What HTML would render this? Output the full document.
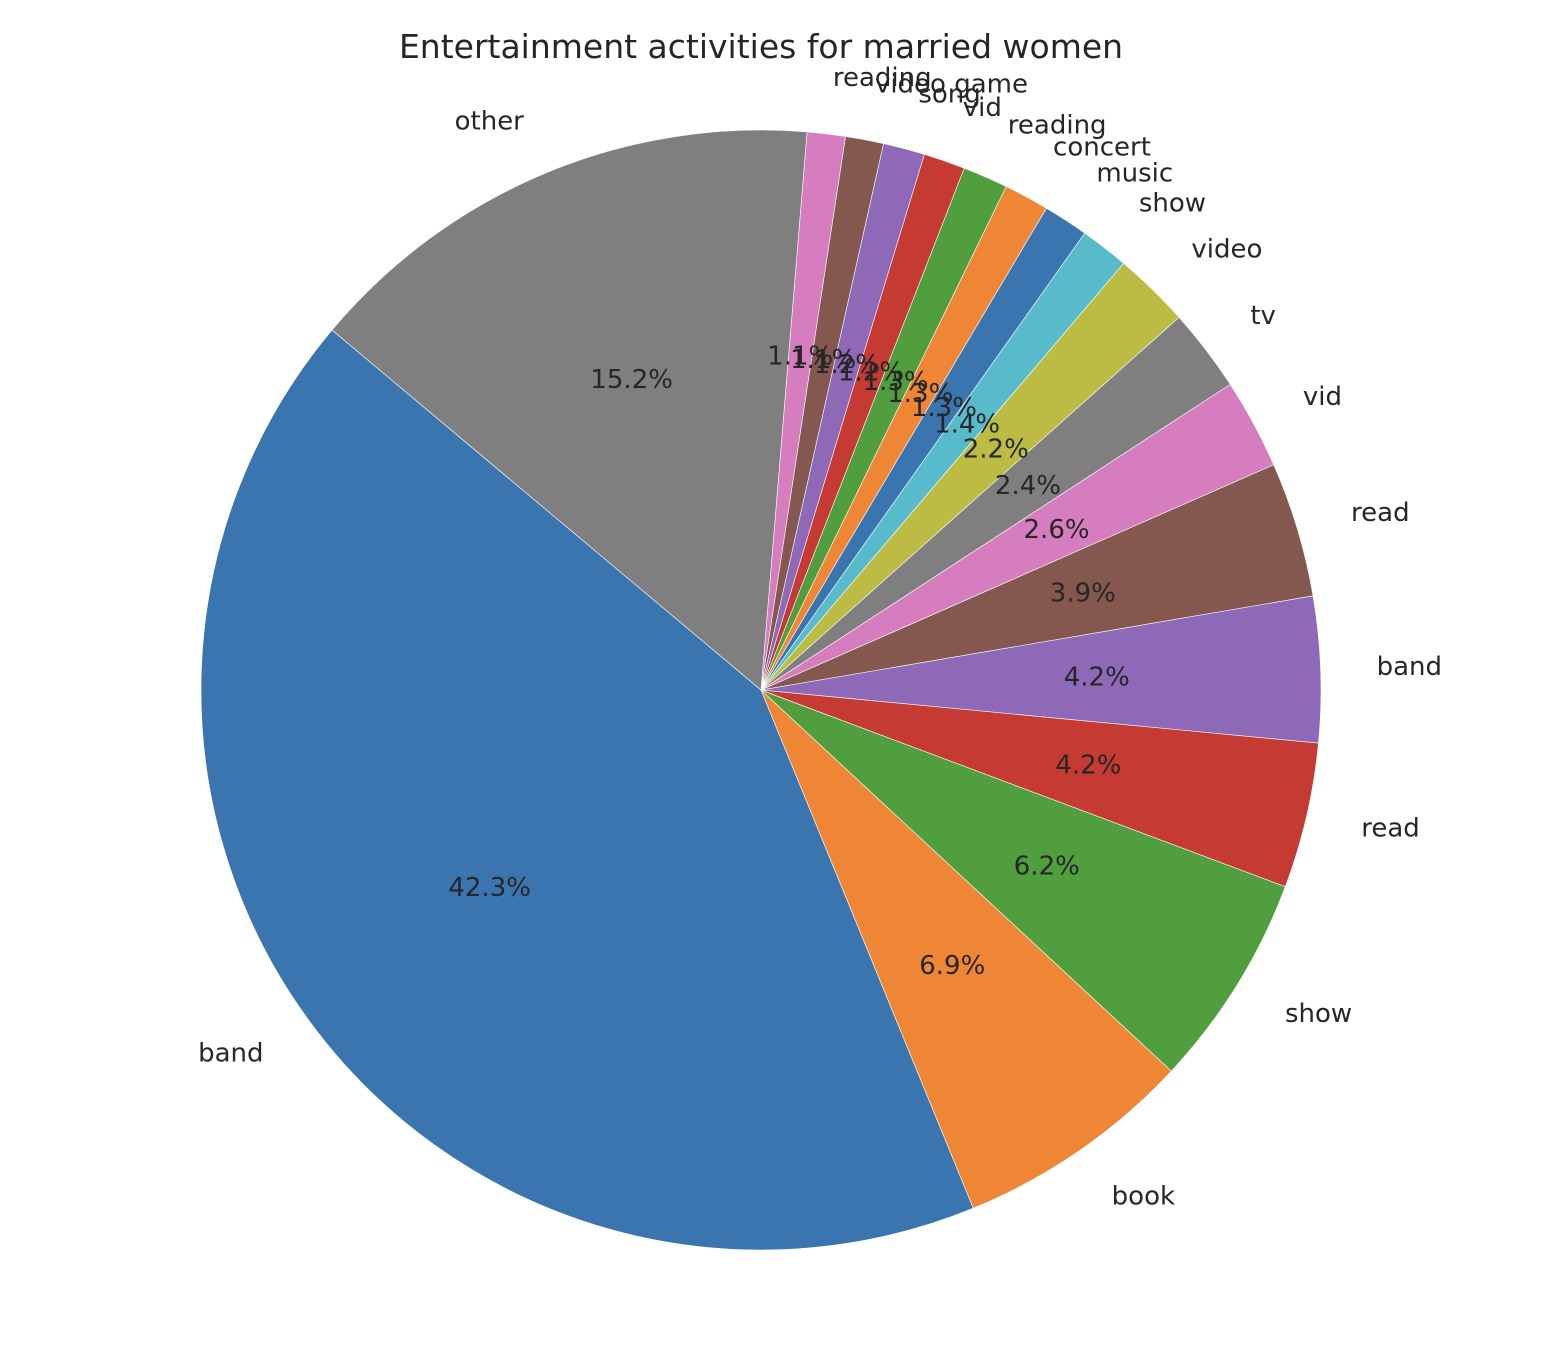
<!DOCTYPE html>
<html><head><meta charset="utf-8"><style>
body{margin:0;background:#fff}
svg{display:block}
text{font-family:"DejaVu Sans","Liberation Sans",sans-serif;fill:#262626}
</style></head><body>
<svg id="chart" width="1564" height="1354" viewBox="0 0 1564 1354" xmlns="http://www.w3.org/2000/svg">
<text x="761" y="58" font-size="33" text-anchor="middle" fill="#111">Entertainment activities for married women</text>
<g id="wedges"></g><g id="labels"></g>
</svg>
<script>
const categories = ["band","book","show","read","band","read","vid","tv","video","show","music","concert","reading","vid","song","video game","reading","other"];
const values = [42.3,6.9,6.2,4.2,4.2,3.9,2.6,2.4,2.2,1.4,1.3,1.3,1.3,1.2,1.2,1.1,1.1,15.2];
const colors = ["#3a75af","#ef8636","#519e3e","#c53a32","#8d69b8","#84584e","#d57dbe","#7f7f7f","#bcbc45","#58bbcc"];
const cx=761, cy=690, r=560, start=140;
const total = values.reduce((a,b)=>a+b,0);
const NS="http://www.w3.org/2000/svg";
const wg=document.getElementById('wedges'), lg=document.getElementById('labels');
function pt(deg, rad){const a=deg*Math.PI/180;return [cx+rad*Math.cos(a), cy-rad*Math.sin(a)];}
let ang=start;
values.forEach((v,i)=>{
  const sweep=v/total*360, a1=ang, a2=ang+sweep;
  const p1=pt(a1,r), p2=pt(a2,r);
  const path=document.createElementNS(NS,'path');
  path.setAttribute('d',`M${cx},${cy} L${p1[0]},${p1[1]} A${r},${r} 0 ${sweep>180?1:0} 0 ${p2[0]},${p2[1]} Z`);
  path.setAttribute('fill',colors[i%colors.length]);
  path.setAttribute('stroke','#fff');
  path.setAttribute('stroke-width','0.6');
  
  
  wg.appendChild(path);
  const mid=(a1+a2)/2;
  const lp=pt(mid,r*1.1);
  const t=document.createElementNS(NS,'text');
  t.setAttribute('x',lp[0]); t.setAttribute('y',lp[1]);
  t.setAttribute('font-size','26');
  t.setAttribute('dominant-baseline','central');
  t.setAttribute('text-anchor',Math.cos(mid*Math.PI/180)>0?'start':'end');
  t.textContent=categories[i];
  
  
  lg.appendChild(t);
  const pp=pt(mid,r*0.6);
  const p=document.createElementNS(NS,'text');
  p.setAttribute('x',pp[0]); p.setAttribute('y',pp[1]);
  p.setAttribute('font-size','26');
  p.setAttribute('dominant-baseline','central');
  p.setAttribute('text-anchor','middle');
  p.setAttribute('fill','#111');
  p.textContent=v.toFixed(1)+'%';
  
  
  lg.appendChild(p);
  ang=a2;
});
</script>
</body></html>
